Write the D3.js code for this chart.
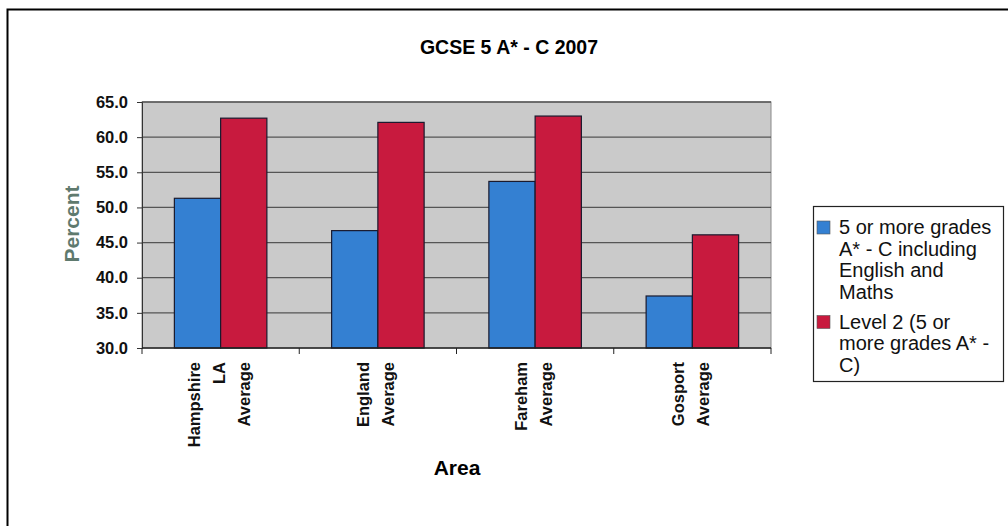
<!DOCTYPE html>
<html lang="en">
<head>
<meta charset="UTF-8">
<title>GCSE 5 A* - C 2007</title>
<style>
    body { margin: 0; background: #fff; }
    svg { display: block; }
    text { font-family: "Liberation Sans", Arial, sans-serif; }
</style>
</head>
<body>
<div id="chart"></div>
<script src="https://d3js.org/d3.v7.min.js"></script>
<script>
    const categories = ['Hampshire LA Average', 'England Average', 'Fareham Average', 'Gosport Average']
    const categoryLines = [['Hampshire', 'LA', 'Average'], ['England', 'Average'], ['Fareham', 'Average'], ['Gosport', 'Average']]
    const seriesNames = ['5 or more grades A* - C including English and Maths', 'Level 2 (5 or more grades A* - C)']
    const englishMaths = [51.3, 46.7, 53.7, 37.4]
    const level2 = [62.7, 62.1, 63.0, 46.1]
    const yTicks = [30, 35, 40, 45, 50, 55, 60, 65]
    const legendLines = [['5 or more grades', 'A* - C including', 'English and', 'Maths'], ['Level 2 (5 or', 'more grades A* -', 'C)']]
    const colors = ['#3480d2', '#c81a3e']

    const width = 1008
    const height = 526
    const margin = { top: 102, right: 237, bottom: 178, left: 142 }

    const svg = d3.select('#chart')
        .append('svg')
        .attr('width', width)
        .attr('height', height)

    // outer chart border (only left & top visible in the scan)
    svg.append('rect')
        .attr('x', 7.5).attr('y', 9.5)
        .attr('width', 1020).attr('height', 540)
        .attr('fill', 'none').attr('stroke', '#000').attr('stroke-width', 2)

    const x0 = d3.scaleBand()
        .domain(categories)
        .range([margin.left, width - margin.right])
    const x1 = d3.scaleBand()
        .domain([0, 1])
        .range([0, x0.bandwidth()])
        .paddingOuter(0.7)
    const y = d3.scaleLinear()
        .domain([30, 65])
        .range([height - margin.bottom, margin.top])

    // plot background
    svg.append('rect')
        .attr('x', margin.left).attr('y', y(65))
        .attr('width', width - margin.right - margin.left)
        .attr('height', y(30) - y(65))
        .attr('fill', '#cacaca')
        .attr('stroke', '#8a8a8a')

    // gridlines
    svg.append('g')
        .selectAll('line')
        .data(yTicks.slice(1))
        .join('line')
        .attr('x1', margin.left).attr('x2', width - margin.right)
        .attr('y1', d => y(d)).attr('y2', d => y(d))
        .attr('stroke', '#555').attr('stroke-width', 1.3)

    // bars
    const data = categories.map((c, i) => ({ cat: c, values: [englishMaths[i], level2[i]] }))
    svg.append('g')
        .selectAll('g')
        .data(data)
        .join('g')
        .attr('transform', d => `translate(${x0(d.cat)},0)`)
        .selectAll('rect')
        .data(d => d.values.map((v, k) => ({ k, v })))
        .join('rect')
        .attr('x', d => x1(d.k))
        .attr('y', d => y(d.v))
        .attr('width', x1.bandwidth())
        .attr('height', d => y(30) - y(d.v))
        .attr('fill', d => colors[d.k])
        .attr('stroke', '#1a1a2e')
        .attr('stroke-width', 1.2)

    // y axis
    const yAxis = d3.axisLeft(y)
        .tickValues(yTicks)
        .tickFormat(d3.format('.1f'))
        .tickSize(5)
        .tickPadding(9)
    const yg = svg.append('g')
        .attr('transform', `translate(${margin.left},0)`)
        .call(yAxis)
    yg.select('.domain').attr('stroke', '#333')
    yg.selectAll('.tick line').attr('stroke', '#333')
    yg.selectAll('text')
        .attr('font-size', 16.5).attr('font-weight', 'bold').attr('fill', '#111')

    // x axis: ticks between categories
    const boundaries = categories.map(c => x0(c)).concat([x0.range()[1]])
    svg.append('line')
        .attr('x1', margin.left).attr('x2', width - margin.right)
        .attr('y1', y(30)).attr('y2', y(30))
        .attr('stroke', '#222').attr('stroke-width', 1.5)
    svg.append('g')
        .selectAll('line')
        .data(boundaries)
        .join('line')
        .attr('x1', d => d).attr('x2', d => d)
        .attr('y1', y(30)).attr('y2', y(30) + 6)
        .attr('stroke', '#222')

    // category labels, rotated
    categories.forEach((c, i) => {
        const lines = categoryLines[i]
        const cx = x0(c) + x0.bandwidth() / 2
        const step = 25
        lines.forEach((ln, j) => {
            const lx = cx + (j - (lines.length - 1) / 2) * step + 4
            svg.append('text')
                .attr('transform', `translate(${lx},${y(30) + 14}) rotate(-90)`)
                .attr('text-anchor', 'end')
                .attr('font-size', 16.5).attr('font-weight', 'bold')
                .attr('fill', '#111')
                .text(ln)
        })
    })

    // title and axis titles
    svg.append('text')
        .attr('x', 509).attr('y', 54)
        .attr('text-anchor', 'middle')
        .attr('font-size', 19.5).attr('font-weight', 'bold')
        .text('GCSE 5 A* - C 2007')
    svg.append('text')
        .attr('x', 457).attr('y', 475)
        .attr('text-anchor', 'middle')
        .attr('font-size', 21).attr('font-weight', 'bold')
        .text('Area')
    svg.append('text')
        .attr('transform', `translate(${79},${224}) rotate(-90)`)
        .attr('text-anchor', 'middle')
        .attr('font-size', 21).attr('font-weight', 'bold')
        .attr('fill', '#5f7a6e')
        .text('Percent')

    // legend
    const legend = svg.append('g')
    legend.append('rect')
        .attr('x', 813.5).attr('y', 206.5)
        .attr('width', 190).attr('height', 175)
        .attr('fill', '#fff').attr('stroke', '#222').attr('stroke-width', 1.2)
    let ly = 234
    legendLines.forEach((lines, k) => {
        legend.append('rect')
            .attr('x', 817).attr('y', ly - 13)
            .attr('width', 13).attr('height', 13)
            .attr('fill', colors[k]).attr('stroke', '#555').attr('stroke-width', 0.6)
        lines.forEach((ln, j) => {
            legend.append('text')
                .attr('x', 839).attr('y', ly + j * 21.5)
                .attr('font-size', 20)
                .attr('fill', '#111')
                .text(ln)
        })
        ly += lines.length * 21.5 + 8.5
    })
</script>
</body>
</html>
